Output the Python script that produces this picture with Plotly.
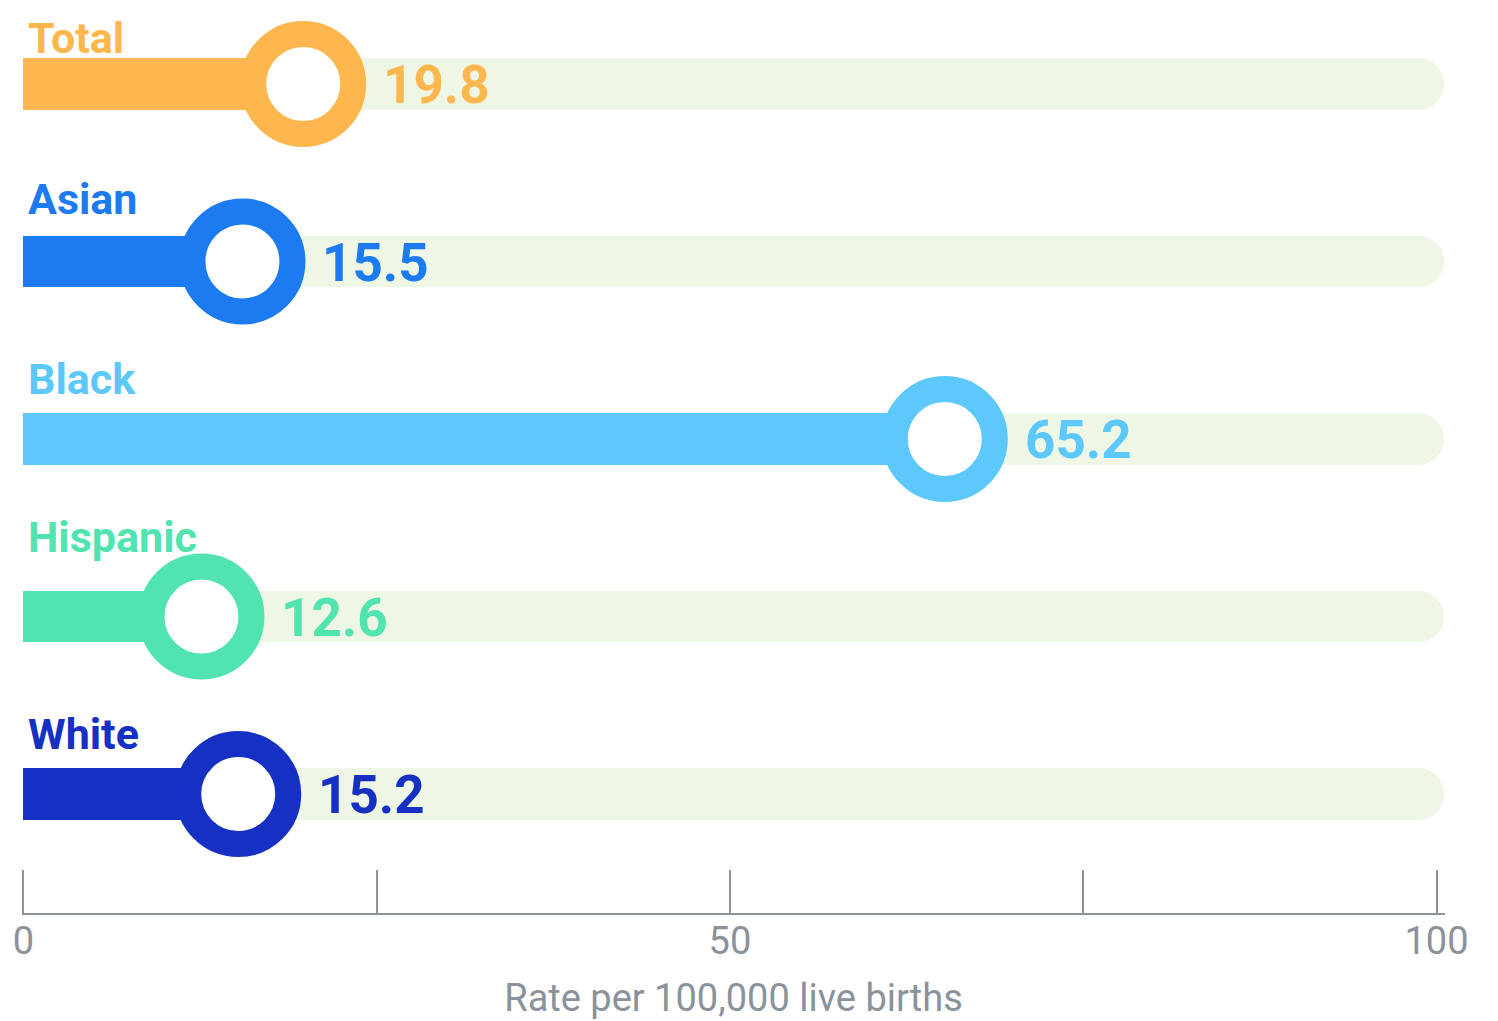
import plotly.graph_objects as go

# ---- data ----
categories = ["Total", "Asian", "Black", "Hispanic", "White"]
values = [19.8, 15.5, 65.2, 12.6, 15.2]
colors = ["#FDB74E", "#1C7BF0", "#5CC8FC", "#52E4B0", "#1530C2"]
track_max = 100.5
tick_vals = [0, 25, 50, 75, 100]
tick_text = ["0", "", "50", "", "100"]
axis_title = "Rate per 100,000 live births"

# ---- style ----
TRACK_COLOR = "#EEF7E6"
GRAY = "#8A929B"
FONT = "Roboto, 'Noto Sans', sans-serif"
BAR_W = 0.29
LABEL_LIFT = {"Total": 46, "Asian": 63, "Black": 60, "Hispanic": 80, "White": 60}

fig = go.Figure()

# background tracks
fig.add_trace(go.Bar(
    y=categories, x=[track_max] * len(categories), orientation="h",
    width=BAR_W, marker=dict(color=TRACK_COLOR, cornerradius="50%", line=dict(width=0)),
    hoverinfo="skip", showlegend=False,
))
# value bars
fig.add_trace(go.Bar(
    y=categories, x=values, orientation="h",
    width=BAR_W, marker=dict(color=colors, line=dict(width=0)),
    showlegend=False,
))
# ring markers
fig.add_trace(go.Scatter(
    y=categories, x=values, mode="markers",
    marker=dict(size=100, color="white", line=dict(color=colors, width=26), opacity=1),
    cliponaxis=False, showlegend=False,
))

annotations = []
for cat, val, col in zip(categories, values, colors):
    annotations.append(dict(
        x=0, y=cat, xref="x", yref="y", text=f"<b>{cat}</b>", showarrow=False,
        xanchor="left", yanchor="middle", xshift=3, yshift=LABEL_LIFT[cat],
        font=dict(family=FONT, size=43, color=col),
    ))
    annotations.append(dict(
        x=val, y=cat, xref="x", yref="y", text=f"<b>{val}</b>", showarrow=False,
        xanchor="left", yanchor="middle", xshift=78, yshift=-1,
        font=dict(family=FONT, size=53, color=col),
    ))

fig.update_layout(
    width=1490, height=1013,
    margin=dict(l=14, r=53, t=0, b=108),
    paper_bgcolor="white", plot_bgcolor="white",
    barmode="overlay", bargap=0,
    annotations=annotations,
    font=dict(family=FONT, color=GRAY),
    xaxis=dict(
        range=[-0.1, 100.6], tickvals=tick_vals, ticktext=tick_text,
        ticks="inside", ticklen=43, tickwidth=1.5, tickcolor=GRAY,
        showline=True, linecolor=GRAY, linewidth=1.5,
        showgrid=False, zeroline=False, automargin=False,
        tickfont=dict(family=FONT, size=38, color=GRAY),
        ticklabelstandoff=-6,
        title=dict(text=axis_title, font=dict(family=FONT, size=38, color=GRAY), standoff=22),
        fixedrange=True,
    ),
    yaxis=dict(
        type="category", categoryorder="array", categoryarray=categories,
        range=[4.670, -0.428], showticklabels=False, showgrid=False,
        zeroline=False, showline=False, ticks="", fixedrange=True, automargin=False,
    ),
)

fig.write_html("out.html")
